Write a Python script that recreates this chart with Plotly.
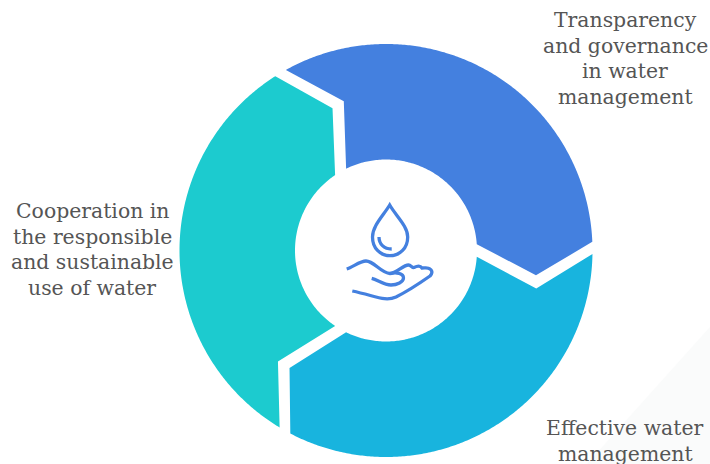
import numpy as np
import plotly.graph_objects as go

# Cycle stages, clockwise from the top
stages = ["Transparency<br>and governance<br>in water<br>management",
          "Effective water<br>management",
          "Cooperation in<br>the responsible<br>and sustainable<br>use of water"]
shares = [1, 1, 1]
colors = ["#4480DF", "#18B4DE", "#1CCBCF"]
label_x = [625, 625, 92]
label_top_y = [20, 428, 211]

WIDTH, HEIGHT = 710, 464
CX, CY = 386, 250.5
R_OUT, R_IN = 206.5, 91
R_TIP, R_NOTCH = 152, 155
FIRST_ANGLE = -29.0
LINE_STEP = 25.6


def to_xy(radius, degrees):
    """Clockwise-from-north polar position to canvas position."""
    a = np.radians(degrees)
    return CX + radius * np.sin(a), CY - radius * np.cos(a)


def arrow_outline(start, sweep):
    """Ring segment whose tail is notched and whose head comes to a point."""
    outer = np.linspace(start, start + sweep - 3.4, 240)
    inner = np.linspace(start + sweep - 5.0, start + 3.0, 120)
    radii = np.concatenate([[R_NOTCH], np.full(240, R_OUT), [R_TIP], np.full(120, R_IN), [R_NOTCH]])
    angles = np.concatenate([[start + 13.2], outer, [start + sweep + 8.4], inner, [start + 13.2]])
    return to_xy(radii, angles)


fig = go.Figure()

total = sum(shares)
angle = FIRST_ANGLE
for share, color in zip(shares, colors):
    sweep = 360 * share / total
    x, y = arrow_outline(angle, sweep)
    fig.add_trace(go.Scatter(x=x, y=y, mode="lines", fill="toself", fillcolor=color,
                             line=dict(width=0, simplify=False), hoverinfo="skip",
                             showlegend=False))
    angle += sweep

# Faint corner panel behind the lower-right label
corner = dict(type="path", path="M 710 327 L 587 464 L 710 464 Z",
              fillcolor="#FAFBFB", line=dict(width=0), layer="below")

# Water drop above an open hand
icon_line = dict(color="#4480DF", width=3.3)
icon_paths = [
    "M 389.7 205 C 383 216 372.5 226 372.5 237 C 372.5 248 380 255.7 390 255.7 "
    "C 400 255.7 407.7 248 407.7 237 C 407.7 226 396 216 389.7 205 Z",
    "M 379 237 C 379 244 384 249 391.7 249",
    "M 346.7 269 C 353 267 360 261 366 261 C 374 261 381 273 390 273.5 "
    "C 396 273.5 403 265 408.5 265 C 411 265 412 268 414 267.5 C 417 266 420 265 422 268 "
    "C 425 268 428 267 430 269 C 433 271 432 274 430 276 C 420 283 408 291 396 297 "
    "C 385 302 376 296 352.3 291",
    "M 371.7 278.3 C 378 280 384 285 391 285 C 397 285 403.5 282 403.5 278 "
    "C 403.5 273 396 272 390 273.5",
]
icon_shapes = [dict(type="path", path=p, line=icon_line, layer="above") for p in icon_paths]

annotations = []
for text, lx, top in zip(stages, label_x, label_top_y):
    for i, line in enumerate(text.split("<br>")):
        annotations.append(dict(x=lx, y=top + i * LINE_STEP, text=line, showarrow=False,
                                xanchor="center", yanchor="middle",
                                font=dict(family="DejaVu Serif", size=20.4, color="#555555")))

fig.update_layout(
    width=WIDTH, height=HEIGHT, margin=dict(l=0, r=0, t=0, b=0),
    paper_bgcolor="white", plot_bgcolor="white",
    xaxis=dict(range=[0, WIDTH], visible=False, fixedrange=True),
    yaxis=dict(range=[HEIGHT, 0], visible=False, fixedrange=True),
    shapes=[corner] + icon_shapes, annotations=annotations,
)

fig.write_html("out.html")
